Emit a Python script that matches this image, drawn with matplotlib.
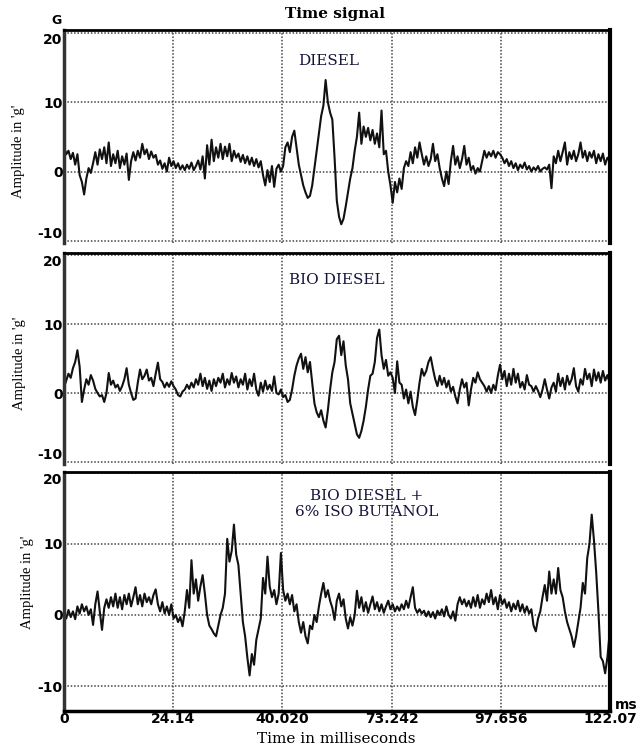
import numpy as np
import matplotlib.pyplot as plt

step_ms = 0.5

diesel = [
    3.6, 2.5, 3.0, 1.8, 2.7, 1.0, 2.5, -0.5, -1.5, -3.3,
    -1.0, 0.5, -0.2, 1.2, 2.8, 1.0, 3.2, 1.8, 3.5, 1.2,
    4.2, 0.8, 2.5, 1.2, 3.0, 0.5, 2.2, 1.0, 2.6, -1.2,
    1.5, 2.8, 1.6, 3.0, 2.0, 4.0, 2.5, 3.2, 1.8, 2.9,
    2.0, 2.4, 1.0, 1.6, 0.4, 1.2, 0.0, 2.0, 0.8, 1.5,
    0.5, 1.2, 0.3, 0.9, 0.2, 1.0, 0.4, 1.3, 0.2, 0.8,
    1.6, 0.3, 2.2, -1.0, 3.8, 1.0, 4.6, 1.5, 3.5, 2.0,
    4.0, 1.8, 3.6, 2.2, 4.0, 1.5, 3.0, 2.0, 2.6, 1.4,
    2.4, 1.2, 2.2, 1.0, 2.0, 0.8, 1.8, 0.6, 1.5, -0.5,
    -2.0, 0.2, -1.5, 0.8, -2.2, 0.4, 1.0, 0.0, 0.8, 3.5,
    4.2, 2.8, 5.0, 5.9, 3.5, 1.0, -0.5, -2.0, -3.0, -3.8,
    -3.5, -2.0, 0.5, 3.0, 5.5, 8.0, 9.5, 13.2, 10.0, 8.5,
    7.5, 2.0, -4.2, -6.5, -7.6, -6.8, -5.0, -3.0, -1.0, 0.5,
    3.0, 5.0, 8.5, 4.0, 6.5, 5.0, 6.3, 4.5, 6.0, 4.0,
    5.5, 3.5, 8.8, 2.5, 3.0, 0.0, -2.0, -4.5, -1.5, -3.0,
    -1.0, -2.5, 0.5, 1.5, 0.8, 2.8, 1.2, 3.5, 2.0, 4.2,
    2.5, 1.0, 2.2, 0.8, 1.8, 4.0, 1.5, 2.5, 0.5, -1.0,
    -2.1, 0.0, -1.8, 1.5, 3.7, 1.0, 2.2, 0.5, 1.8, 3.7,
    1.0, 2.0, 0.2, 0.8, -0.3, 0.5, 0.0, 1.5, 3.0, 2.0,
    2.8, 2.2, 3.0, 2.0, 2.8, 2.5, 2.0, 1.2, 1.8, 0.8,
    1.5, 0.5, 1.2, 0.2, 1.0, 0.5, 1.3, 0.3, 0.8, 0.0,
    0.6, 0.2, 0.8, 0.0, 0.4, 0.6, 0.3, 1.0, -2.4, 2.2,
    1.2, 3.0, 1.5, 2.8, 4.2, 1.0, 2.8, 1.8, 3.0, 1.5,
    2.5, 4.2, 2.0, 3.0, 1.5, 2.8, 2.0, 3.0, 1.2, 2.5,
    1.5, 2.6, 1.0, 2.0, 1.5,
]

bio_diesel = [
    0.8, 1.8, 2.8, 2.2, 3.6, 4.5, 6.2, 3.8, -1.3, 0.5,
    2.0, 1.2, 2.6, 1.8, 0.6, 0.0, -0.5, -0.3, -1.3, 0.0,
    2.9, 1.2, 1.8, 0.8, 1.2, 0.3, 1.0, 2.0, 3.6, 1.2,
    0.0, -1.0, -0.8, 1.5, 3.4, 2.0, 2.5, 3.4, 1.8, 2.2,
    1.0, 2.8, 4.4, 2.0, 1.6, 0.8, 1.5, 0.9, 1.7, 1.0,
    0.5, -0.3, -0.5, 0.2, 0.5, 1.2, 0.6, 1.5, 0.8, 2.0,
    1.2, 2.8, 1.0, 2.2, 0.6, 1.8, 0.3, 2.0, 1.0, 2.2,
    1.5, 2.8, 0.8, 2.0, 1.2, 2.9, 1.5, 2.4, 0.8, 2.0,
    1.2, 2.8, 0.5, 2.0, 1.0, 2.8, 0.5, -0.4, 1.5, 0.2,
    1.8, 0.5, 1.2, 0.3, 2.4, 0.0, -0.2, 0.5, -0.6, -0.3,
    -1.3, -1.0, 0.5, 2.5, 4.0, 5.0, 5.7, 3.5, 5.2, 3.0,
    4.5, 1.5, -1.5, -2.8, -3.5, -2.5, -4.0, -5.0, -2.5, 0.5,
    3.0, 4.5, 7.8, 8.3, 5.5, 7.5, 4.0, 2.0, -1.5, -3.0,
    -4.5, -6.0, -6.5, -5.5, -4.0, -2.0, 0.5, 2.5, 2.8, 4.5,
    8.0, 9.2, 5.5, 3.5, 4.8, 2.5, 3.0, 2.2, 0.0, 4.6,
    1.5, 1.2, -0.8, 0.5, -1.5, 0.2, -2.0, -3.2, -1.0, 1.5,
    3.5, 2.5, 3.2, 4.5, 5.2, 3.5, 2.0, 1.0, 2.5, 1.2,
    2.2, 0.8, 1.8, 0.2, 0.9, -0.5, -1.5, 0.5, 2.0, 0.8,
    1.5, -1.8, 0.5, 2.2, 1.5, 3.0, 2.0, 1.5, 1.0, 0.2,
    1.0, 0.0, 1.2, 0.4, 2.5, 4.1, 2.0, 3.2, 1.0, 2.8,
    1.2, 3.5, 1.5, 2.8, 0.8, 1.6, 0.5, 2.6, 1.2, 1.0,
    0.2, 1.0, 0.3, -0.6, 0.5, 2.0, 0.5, -0.8, 0.8, 1.5,
    0.2, 2.8, 1.0, 2.2, 0.5, 2.5, 1.2, 2.0, 3.6, 1.0,
    0.2, 2.0, 1.2, 3.5, 2.0, 2.8, 1.0, 3.4, 1.8, 3.0,
    1.5, 3.2, 1.8, 2.6, 1.5,
]

bio_butanol = [
    0.0, -0.5, 0.7, -0.3, 0.5, -0.6, 1.2, 0.2, 1.5, 0.5,
    1.2, 0.0, 0.8, -1.4, 1.5, 3.3, 0.5, -2.1, 1.0, 2.2,
    1.0, 2.5, 1.2, 3.0, 1.0, 2.5, 0.8, 2.8, 1.5, 3.0,
    1.2, 2.5, 3.9, 1.5, 2.8, 1.2, 3.0, 1.8, 2.5, 1.5,
    2.8, 3.6, 1.5, 0.5, 1.8, 0.2, 1.2, 0.0, 1.5, -0.5,
    0.0, -1.0, -0.3, -1.6, 0.5, 3.5, 1.0, 7.7, 3.0, 5.0,
    2.0, 4.0, 5.6, 3.0, 0.0, -1.5, -2.0, -2.6, -3.0, -1.5,
    0.0, 1.0, 3.0, 10.7, 7.5, 9.0, 12.7, 8.5, 7.0, 3.0,
    -1.0, -3.0, -6.0, -8.5, -5.5, -7.0, -3.5, -2.0, -0.5, 5.2,
    3.0, 8.2, 4.0, 2.5, 3.5, 1.5, 3.0, 8.7, 3.5, 2.0,
    3.0, 1.5, 2.8, 0.5, 1.5, -1.0, -2.5, -1.0, -3.0, -4.0,
    -1.5, -2.0, 0.0, -1.0, 1.2, 3.0, 4.5, 2.5, 3.5, 2.0,
    1.0, -0.7, 2.0, 3.0, 1.2, 2.2, -0.5, -1.9, -0.3, -1.5,
    0.0, 3.4, 1.0, 2.5, 0.5, 1.8, 0.3, 1.5, 2.6, 0.8,
    1.8, 0.5, 1.5, 0.3, 1.2, 2.0, 0.8, 1.5, 0.5, 1.2,
    0.6, 1.5, 0.8, 2.0, 1.0, 2.5, 3.9, 1.0, 0.3, 0.8,
    0.2, 0.6, -0.2, 0.5, -0.3, 0.4, -0.5, 0.6, 0.0, 0.8,
    -0.2, 1.2, 0.0, -0.5, 0.5, -0.8, 1.5, 2.5, 1.5, 2.2,
    1.2, 2.0, 1.0, 2.5, 1.2, 2.8, 1.0, 2.2, 1.5, 3.0,
    1.8, 3.5, 1.5, 2.5, 0.8, 2.8, 1.5, 2.2, 1.0, 1.8,
    0.5, 1.6, 0.8, 2.0, 0.5, 1.5, 0.3, 1.2, 0.2, 0.8,
    -1.5, -2.3, -0.5, 0.5, 2.5, 4.2, 2.0, 6.1, 3.0, 5.0,
    3.0, 6.6, 3.5, 2.5, 0.5, -1.0, -2.0, -3.0, -4.5, -3.0,
    -1.0, 1.0, 4.5, 3.0, 8.0, 10.0, 14.1, 10.5, 6.0, 0.5,
    -5.9, -6.5, -8.2, -6.0, -2.6,
]

tick_pos = [0, 24.414, 48.828, 73.242, 97.656, 122.07]
tick_labels = ['0', '24.14', '40.020', '73.242', '97.656', '122.07']
y_ticks = [-10, 0, 10, 20]
panel_names = ['DIESEL', 'BIO DIESEL', 'BIO DIESEL +\n6% ISO BUTANOL']

serif = 'DejaVu Serif'
sans = 'DejaVu Sans'

fig = plt.figure(figsize=(6.4, 7.47), dpi=100)

# [left, bottom, width, height], y-limits, text position (axes fraction)
panels = [
    ([0.1, 0.6747, 0.853, 0.285], (-10.3, 20.4), (0.485, 0.854)),
    ([0.1, 0.3788, 0.853, 0.2825], (-10.3, 20.3), (0.50, 0.872)),
    ([0.1, 0.0482, 0.853, 0.320], (-13.5, 20.1), (0.555, 0.866)),
]
series = [diesel, bio_diesel, bio_butanol]

for i, (pos, ylim, txt) in enumerate(panels):
    ax = fig.add_axes(pos)
    vals = np.array(series[i])
    t = np.arange(len(vals)) * step_ms
    ax.plot(t, vals, color='#111111', lw=1.5)
    ax.set_xlim(0, 122.07)
    ax.set_ylim(*ylim)
    ax.set_xticks(tick_pos)
    ax.set_yticks(y_ticks)
    ax.grid(True, linestyle=(0, (1, 1.2)), color='#444444', lw=1.1)
    ax.tick_params(length=0, pad=1)
    ax.set_yticklabels([str(v) for v in y_ticks], fontsize=10,
                       fontweight='bold', family=sans)
    # the outer labels sit just inside the panel, as in the original
    for lab in ax.get_yticklabels():
        if lab.get_text() == '20':
            lab.set_va('top')
        elif lab.get_text() == '-10' and i < 2:
            lab.set_va('bottom')
    if i == 2:
        ax.set_xticklabels(tick_labels, fontsize=10, fontweight='bold',
                           family=sans)
        ax.tick_params(axis='x', pad=1)
        ax.spines['bottom'].set_linewidth(2.5)
    else:
        ax.set_xticklabels([])
        ax.spines['bottom'].set_visible(False)
    ax.spines['left'].set_linewidth(2.5)
    ax.spines['left'].set_color('#333333')
    ax.spines['right'].set_linewidth(3)
    ax.spines['top'].set_linewidth(2)
    ax.text(txt[0], txt[1], panel_names[i], transform=ax.transAxes,
            ha='center', va='center', fontsize=11, family=serif,
            color='#15153a', linespacing=1.1)

fig.text(0.523, 0.981, 'Time signal', ha='center', va='center',
         fontsize=11, fontweight='bold', family=serif)
fig.text(0.0875, 0.973, 'G', ha='center', va='center', fontsize=9,
         fontweight='bold', family=sans)
for x, y in [(0.029, 0.797), (0.031, 0.514), (0.043, 0.221)]:
    fig.text(x, y, "Amplitude in 'g'", rotation=90, ha='center',
             va='center', fontsize=10.5, family='Liberation Serif')
fig.text(0.96, 0.056, 'ms', ha='left', va='center', fontsize=10,
         fontweight='bold', family=sans)
fig.text(0.525, 0.011, 'Time in milliseconds', ha='center', va='center',
         fontsize=11, family=serif)

fig.savefig('out.png', dpi=100)
